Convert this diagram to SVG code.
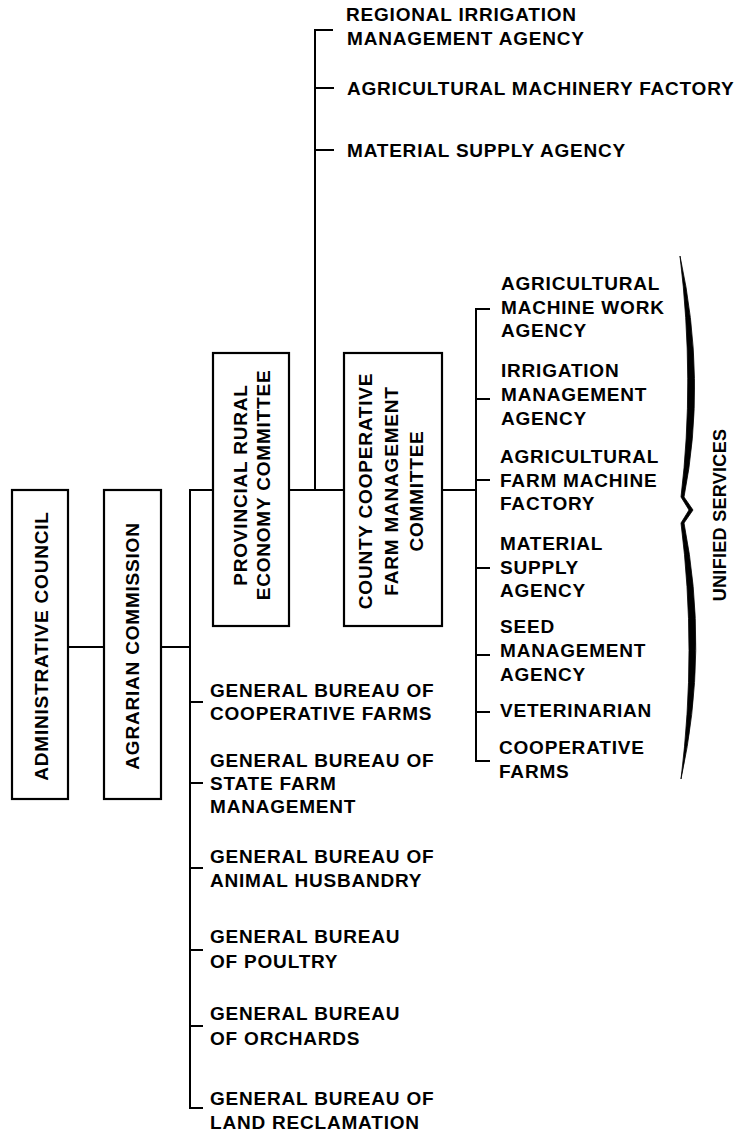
<svg xmlns="http://www.w3.org/2000/svg" width="739" height="1133" viewBox="0 0 739 1133">
<style>
text{font-family:"Liberation Sans",Arial,sans-serif;font-weight:bold;font-size:19px;letter-spacing:0.8px;fill:#000}
.box{fill:#fff;stroke:#000;stroke-width:2.2}
.ln{fill:none;stroke:#000;stroke-width:2;stroke-linecap:square}
</style>
<rect width="739" height="1133" fill="#fff"/>
<g id="connectors" class="ln">
<path d="M68,647H104M161,647H190M190,490V1108H202M190,490H213"/>
<path d="M190,702H202M190,783H202M190,868H202M190,950H202M190,1026H202"/>
<path d="M289,490H344M315,490V30H332M315,88H333M315,150H333"/>
<path d="M442,490H476M476,309V761H489M476,309H489M476,399H489M476,480H489M476,568H489M476,655H489M476,712H489"/>
</g>
<g id="admin-council">
<rect class="box" x="12" y="490" width="56" height="309"/>
<text transform="translate(48,646) rotate(-90)" text-anchor="middle">ADMINISTRATIVE COUNCIL</text>
</g>
<g id="agrarian-commission">
<rect class="box" x="104" y="490" width="57" height="309"/>
<text transform="translate(139,646) rotate(-90)" text-anchor="middle">AGRARIAN COMMISSION</text>
</g>
<g id="provincial">
<rect class="box" x="213" y="353" width="76" height="273"/>
<text transform="translate(247,485) rotate(-90)" text-anchor="middle">PROVINCIAL RURAL</text>
<text transform="translate(270,485) rotate(-90)" text-anchor="middle">ECONOMY COMMITTEE</text>
</g>
<g id="county">
<rect class="box" x="344" y="353" width="98" height="273"/>
<text transform="translate(372,491) rotate(-90)" text-anchor="middle">COUNTY COOPERATIVE</text>
<text transform="translate(398,491) rotate(-90)" text-anchor="middle">FARM MANAGEMENT</text>
<text transform="translate(423,491) rotate(-90)" text-anchor="middle">COMMITTEE</text>
</g>
<g id="top-agencies">
<text x="346" y="21">REGIONAL IRRIGATION</text>
<text x="347" y="45">MANAGEMENT AGENCY</text>
<text x="347" y="95">AGRICULTURAL MACHINERY FACTORY</text>
<text x="347" y="157">MATERIAL SUPPLY AGENCY</text>
</g>
<g id="unified-services">
<text x="501" y="290">AGRICULTURAL</text>
<text x="501" y="314">MACHINE WORK</text>
<text x="501" y="337">AGENCY</text>
<text x="501" y="377">IRRIGATION</text>
<text x="501" y="401">MANAGEMENT</text>
<text x="501" y="425">AGENCY</text>
<text x="500" y="463">AGRICULTURAL</text>
<text x="500" y="487">FARM MACHINE</text>
<text x="500" y="510">FACTORY</text>
<text x="500" y="550">MATERIAL</text>
<text x="500" y="574">SUPPLY</text>
<text x="500" y="597">AGENCY</text>
<text x="500" y="633">SEED</text>
<text x="500" y="657">MANAGEMENT</text>
<text x="500" y="681">AGENCY</text>
<text x="500" y="717">VETERINARIAN</text>
<text x="499" y="754">COOPERATIVE</text>
<text x="499" y="778">FARMS</text>
</g>
<g id="brace">
<path d="M680,256 Q707,380 684,497 L693,510 L684,523 Q709,650 681,779 Q697,650 681,523 L689,510 L681,497 Q695,380 680,256 Z" fill="#000" stroke="#000" stroke-width="0.8"/>
<text transform="translate(726,515) rotate(-90)" text-anchor="middle" style="font-size:18px;letter-spacing:0.3px">UNIFIED SERVICES</text>
</g>
<g id="general-bureaus">
<text x="210" y="697">GENERAL BUREAU OF</text>
<text x="210" y="720">COOPERATIVE FARMS</text>
<text x="210" y="767">GENERAL BUREAU OF</text>
<text x="210" y="790">STATE FARM</text>
<text x="210" y="813">MANAGEMENT</text>
<text x="210" y="863">GENERAL BUREAU OF</text>
<text x="210" y="887">ANIMAL HUSBANDRY</text>
<text x="210" y="943">GENERAL BUREAU</text>
<text x="210" y="968">OF POULTRY</text>
<text x="210" y="1020">GENERAL BUREAU</text>
<text x="210" y="1045">OF ORCHARDS</text>
<text x="210" y="1105">GENERAL BUREAU OF</text>
<text x="210" y="1129">LAND RECLAMATION</text>
</g>
</svg>
